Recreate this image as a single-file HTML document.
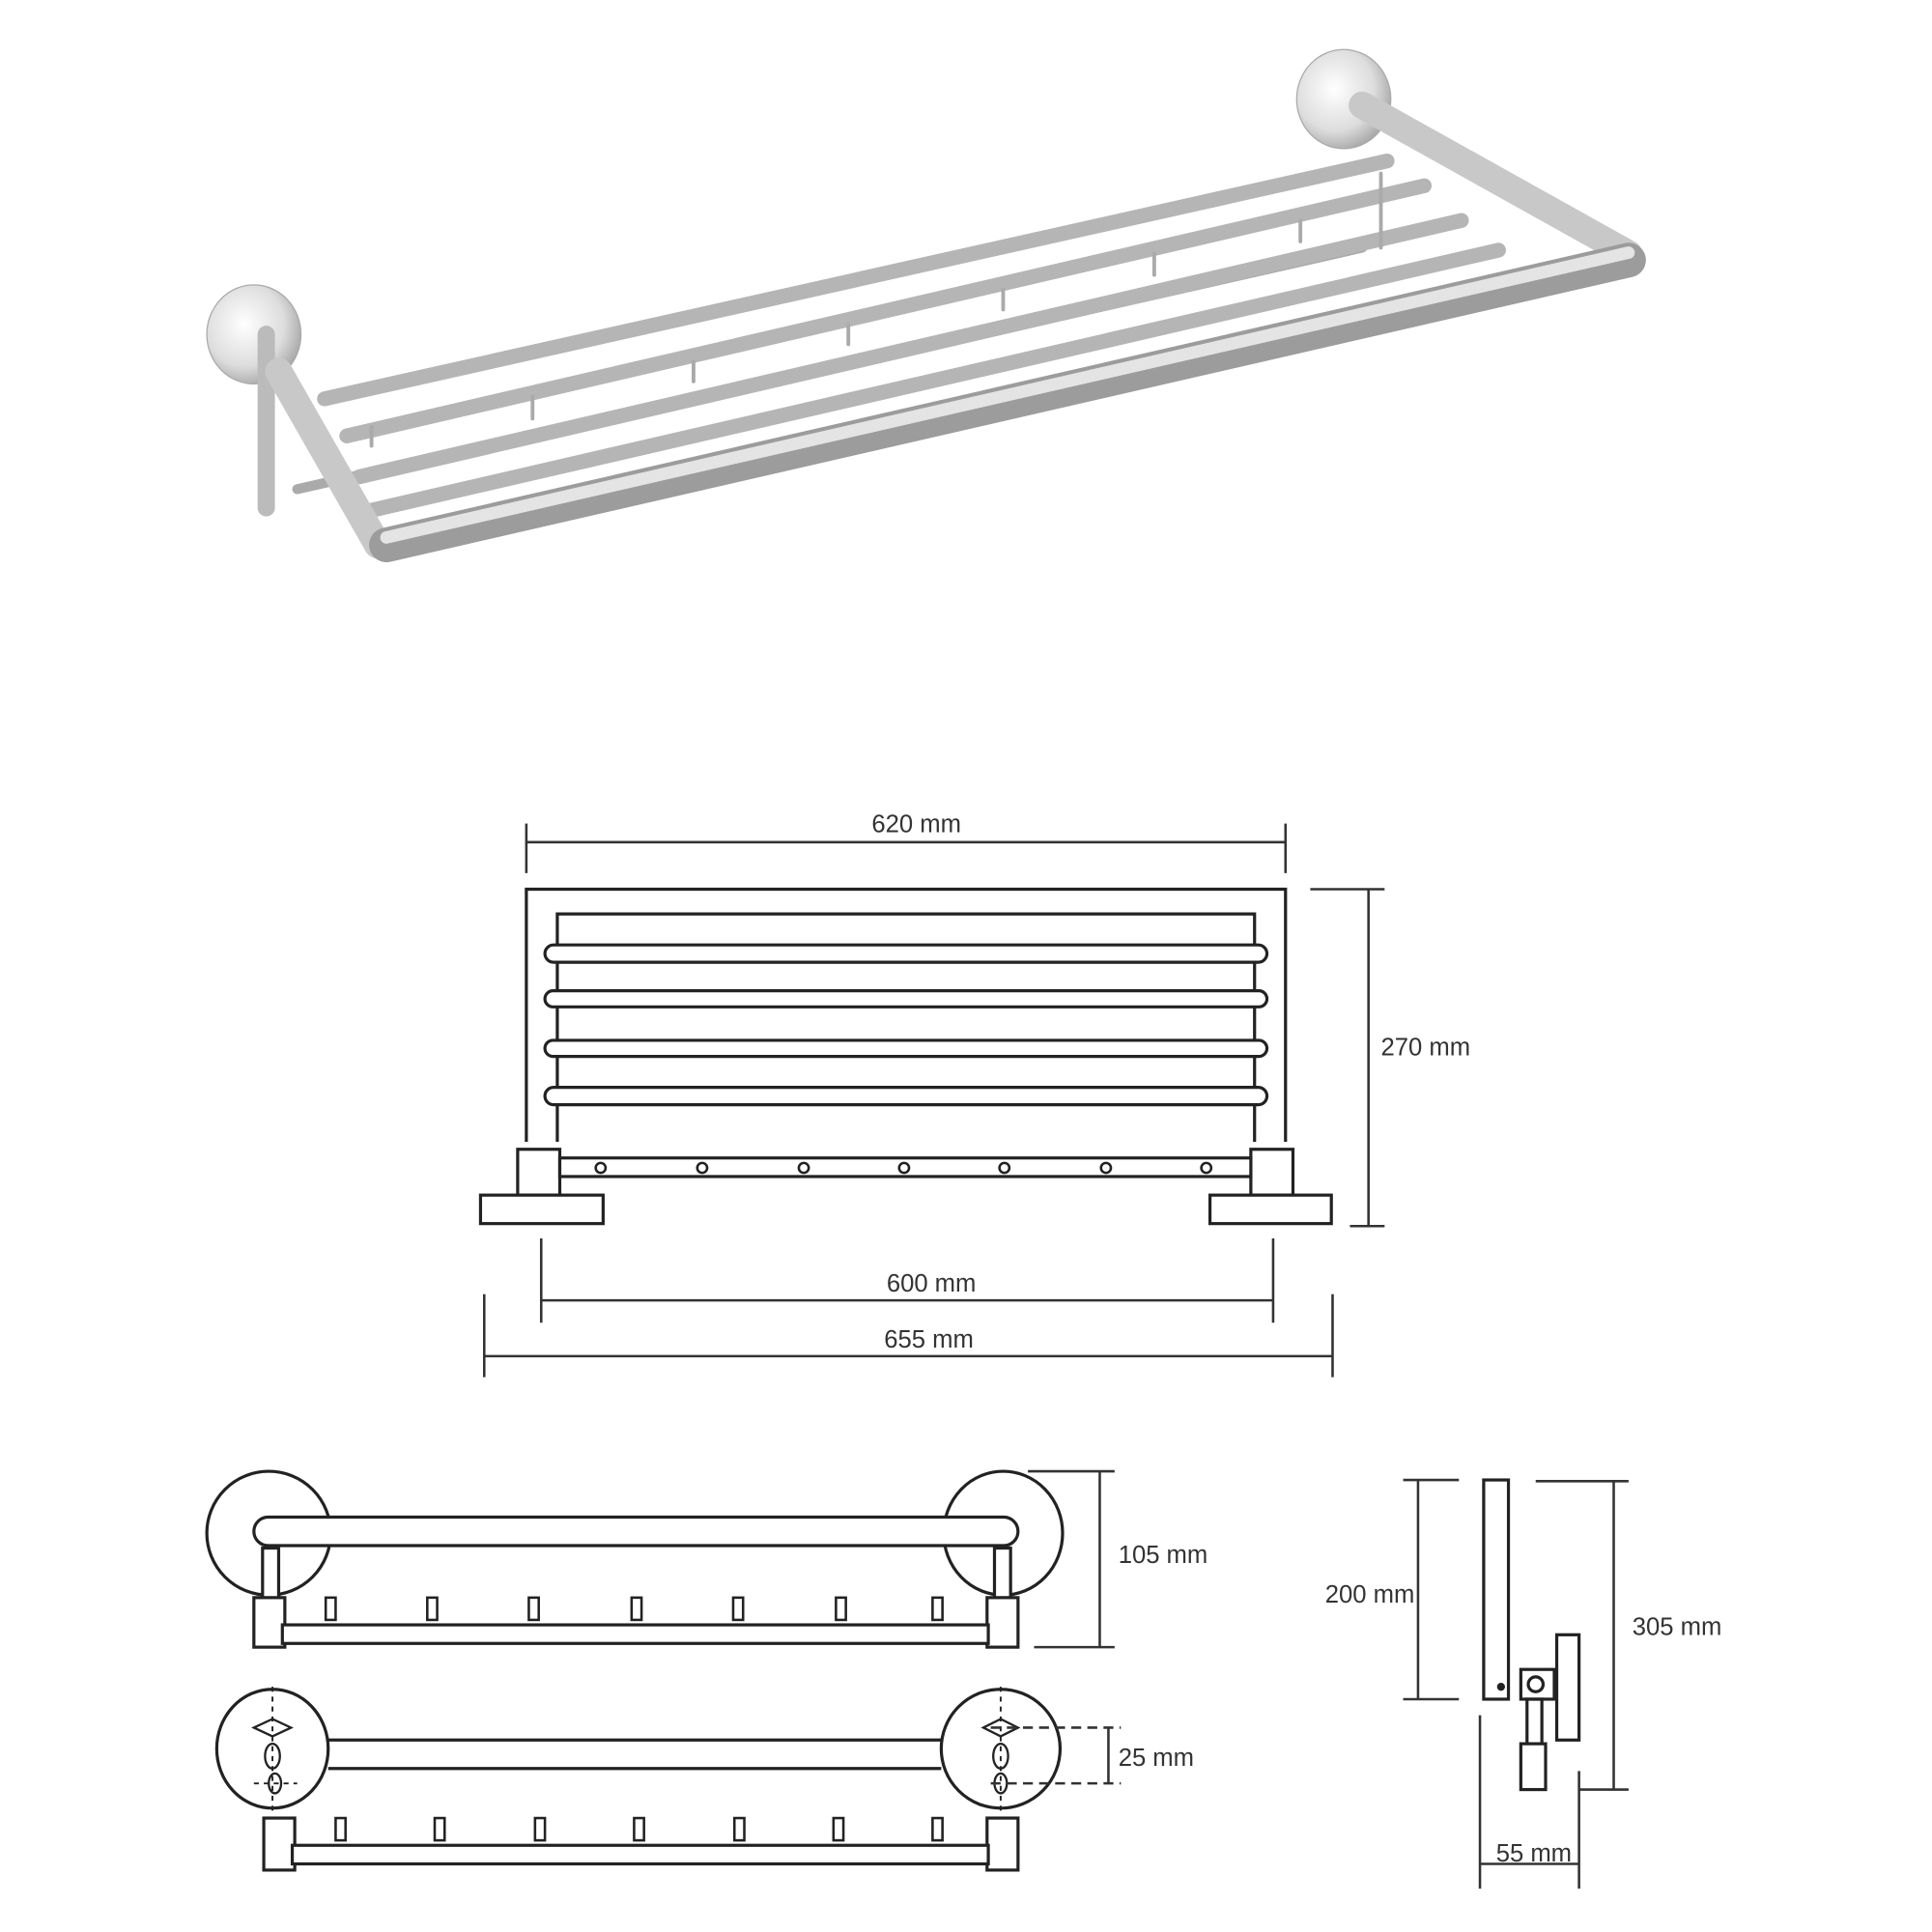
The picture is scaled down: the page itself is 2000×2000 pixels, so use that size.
<!DOCTYPE html>
<html><head><style>html,body{margin:0;padding:0;background:#fff}svg{display:block}</style></head><body>
<svg width="2000" height="2000" viewBox="0 0 1560 1560" xmlns="http://www.w3.org/2000/svg">
<defs>
<linearGradient id="ch" x1="0" y1="0" x2="0" y2="1">
<stop offset="0" stop-color="#f4f4f4"/><stop offset="0.4" stop-color="#d8d8d8"/><stop offset="0.7" stop-color="#9a9a9a"/><stop offset="1" stop-color="#e8e8e8"/></linearGradient>
<radialGradient id="disk" cx="0.4" cy="0.4" r="0.7"><stop offset="0" stop-color="#fff"/><stop offset="0.6" stop-color="#ddd"/><stop offset="1" stop-color="#999"/></radialGradient>
</defs>
<!-- photo -->
<g stroke-linecap="round">
<ellipse cx="205" cy="270" rx="38" ry="40" fill="url(#disk)" stroke="#aaa"/>
<ellipse cx="1085" cy="80" rx="38" ry="40" fill="url(#disk)" stroke="#aaa"/>
<line x1="215" y1="270" x2="215" y2="410" stroke="#bbb" stroke-width="14"/>
<line x1="240" y1="395" x2="1100" y2="200" stroke="#aaa" stroke-width="8"/>
<line x1="262" y1="322" x2="1120" y2="130" stroke="#b5b5b5" stroke-width="12"/>
<line x1="280" y1="352" x2="1150" y2="150" stroke="#b5b5b5" stroke-width="12"/>
<line x1="290" y1="385" x2="1180" y2="178" stroke="#b5b5b5" stroke-width="12"/>
<line x1="300" y1="412" x2="1210" y2="202" stroke="#b5b5b5" stroke-width="12"/>
<line x1="225" y1="300" x2="305" y2="440" stroke="#c8c8c8" stroke-width="22"/>
<line x1="1100" y1="85" x2="1315" y2="205" stroke="#c8c8c8" stroke-width="22"/>
<line x1="312" y1="440" x2="1315" y2="210" stroke="#9c9c9c" stroke-width="28"/>
<line x1="312" y1="434" x2="1315" y2="204" stroke="#e4e4e4" stroke-width="10"/>
<g stroke="#aaa" stroke-width="3">
<line x1="300" y1="345" x2="300" y2="360"/><line x1="430" y1="320" x2="430" y2="338"/><line x1="560" y1="292" x2="560" y2="308"/><line x1="685" y1="262" x2="685" y2="278"/><line x1="810" y1="234" x2="810" y2="250"/><line x1="932" y1="205" x2="932" y2="222"/><line x1="1050" y1="178" x2="1050" y2="195"/><line x1="1115" y1="140" x2="1115" y2="200"/></g>
</g>
<!-- front view -->
<g fill="none" stroke="#222" stroke-width="2.5">
<path d="M425 922 V718 H1038 V922"/>
<path d="M450 922 V738 H1013 V922"/>
<rect x="440" y="763" width="583" height="14" rx="7" fill="#fff"/>
<rect x="440" y="800" width="583" height="13" rx="6.5" fill="#fff"/>
<rect x="440" y="840" width="583" height="13" rx="6.5" fill="#fff"/>
<rect x="440" y="878" width="583" height="14" rx="7" fill="#fff"/>
<rect x="418" y="928" width="34" height="37" fill="#fff"/>
<rect x="1010" y="928" width="34" height="37" fill="#fff"/>
<rect x="388" y="965" width="99" height="23" fill="#fff"/>
<rect x="977" y="965" width="98" height="23" fill="#fff"/>
<rect x="452" y="935" width="558" height="15" fill="#fff"/>
<g stroke-width="2"><circle cx="485" cy="943" r="4"/><circle cx="567" cy="943" r="4"/><circle cx="649" cy="943" r="4"/><circle cx="730" cy="943" r="4"/><circle cx="811" cy="943" r="4"/><circle cx="893" cy="943" r="4"/><circle cx="974" cy="943" r="4"/></g>
</g>
<g stroke="#333" stroke-width="2" fill="none">
<line x1="425" y1="665" x2="425" y2="705"/><line x1="1038" y1="665" x2="1038" y2="705"/><line x1="425" y1="680" x2="1038" y2="680"/>
<line x1="1058" y1="718" x2="1118" y2="718"/><line x1="1090" y1="990" x2="1118" y2="990"/><line x1="1105" y1="718" x2="1105" y2="990"/>
<line x1="437" y1="1000" x2="437" y2="1068"/><line x1="1028" y1="1000" x2="1028" y2="1068"/><line x1="437" y1="1050" x2="1028" y2="1050"/>
<line x1="391" y1="1045" x2="391" y2="1112"/><line x1="1076" y1="1045" x2="1076" y2="1112"/><line x1="391" y1="1095" x2="1076" y2="1095"/>
</g>
<g font-family="Liberation Sans Narrow, Liberation Sans, sans-serif" font-size="20" fill="#333">
<text x="740" y="672" text-anchor="middle">620 mm</text>
<text x="1115" y="852">270 mm</text>
<text x="752" y="1043" text-anchor="middle">600 mm</text>
<text x="750" y="1088" text-anchor="middle">655 mm</text>
<text x="903" y="1262">105 mm</text>
<text x="903" y="1426">25 mm</text>
<text x="1070" y="1294">200 mm</text>
<text x="1318" y="1320">305 mm</text>
<text x="1208" y="1503">55 mm</text>
</g>
<!-- top view 1 -->
<g fill="none" stroke="#222" stroke-width="2.5">
<ellipse cx="217" cy="1238" rx="50" ry="50"/><ellipse cx="810" cy="1238" rx="48" ry="50"/>
<rect x="205" y="1225" width="617" height="23" rx="11.5" fill="#fff"/>
<rect x="212" y="1250" width="13" height="42" fill="#fff"/><rect x="803" y="1250" width="13" height="42" fill="#fff"/>
<rect x="205" y="1290" width="25" height="40" fill="#fff"/><rect x="797" y="1290" width="25" height="40" fill="#fff"/>
<rect x="228" y="1312" width="570" height="15" fill="#fff"/>
<g stroke-width="2"><rect x="263" y="1290" width="8" height="18"/><rect x="345" y="1290" width="8" height="18"/><rect x="427" y="1290" width="8" height="18"/><rect x="510" y="1290" width="8" height="18"/><rect x="592" y="1290" width="8" height="18"/><rect x="675" y="1290" width="8" height="18"/><rect x="753" y="1290" width="8" height="18"/></g>
</g>
<g stroke="#333" stroke-width="2"><line x1="830" y1="1188" x2="900" y2="1188"/><line x1="835" y1="1330" x2="900" y2="1330"/><line x1="888" y1="1188" x2="888" y2="1330"/></g>
<!-- top view 2 -->
<g fill="none" stroke="#222" stroke-width="2.5">
<ellipse cx="220" cy="1412" rx="45" ry="48"/><ellipse cx="808" cy="1412" rx="48" ry="48"/>
<line x1="265" y1="1405" x2="760" y2="1405"/><line x1="265" y1="1428" x2="760" y2="1428"/>
<rect x="213" y="1468" width="25" height="42" fill="#fff"/><rect x="797" y="1468" width="25" height="42" fill="#fff"/>
<rect x="236" y="1490" width="562" height="15" fill="#fff"/>
<g stroke-width="2"><rect x="271" y="1468" width="8" height="18"/><rect x="351" y="1468" width="8" height="18"/><rect x="432" y="1468" width="8" height="18"/><rect x="512" y="1468" width="8" height="18"/><rect x="593" y="1468" width="8" height="18"/><rect x="673" y="1468" width="8" height="18"/><rect x="753" y="1468" width="8" height="18"/></g>
<g stroke-width="1.8"><path d="M205 1395 L220 1388 L235 1395 L220 1402Z"/><ellipse cx="220" cy="1418" rx="6" ry="10"/><ellipse cx="222" cy="1440" rx="5" ry="8"/>
<path d="M794 1395 L808 1388 L822 1395 L808 1402Z"/><ellipse cx="808" cy="1418" rx="6" ry="10"/><ellipse cx="808" cy="1440" rx="5" ry="8"/></g>
<g stroke-width="1.5" stroke-dasharray="4 4"><line x1="220" y1="1362" x2="220" y2="1465"/><line x1="808" y1="1362" x2="808" y2="1465"/><line x1="205" y1="1440" x2="240" y2="1440"/></g>
</g>
<g stroke="#333" stroke-width="2" stroke-dasharray="8 5"><line x1="800" y1="1395" x2="905" y2="1395"/><line x1="800" y1="1440" x2="905" y2="1440"/><line x1="895" y1="1395" x2="895" y2="1440" stroke-dasharray="none"/></g>
<!-- side view -->
<g fill="none" stroke="#222" stroke-width="2.5">
<rect x="1198" y="1195" width="20" height="177" fill="#fff"/>
<rect x="1257" y="1320" width="18" height="85" fill="#fff"/>
<rect x="1228" y="1348" width="27" height="24" fill="#fff"/><circle cx="1240" cy="1360" r="6"/>
<rect x="1233" y="1372" width="12" height="36"/>
<rect x="1228" y="1408" width="20" height="37" fill="#fff"/>
<circle cx="1212" cy="1362" r="2" fill="#222"/>
</g>
<g stroke="#333" stroke-width="2">
<line x1="1133" y1="1195" x2="1178" y2="1195"/><line x1="1133" y1="1372" x2="1178" y2="1372"/><line x1="1145" y1="1195" x2="1145" y2="1372"/>
<line x1="1240" y1="1196" x2="1315" y2="1196"/><line x1="1275" y1="1445" x2="1315" y2="1445"/><line x1="1303" y1="1196" x2="1303" y2="1445"/>
<line x1="1195" y1="1385" x2="1195" y2="1525"/><line x1="1275" y1="1430" x2="1275" y2="1525"/><line x1="1195" y1="1505" x2="1275" y2="1505"/>
</g>
</svg>
</body></html>
